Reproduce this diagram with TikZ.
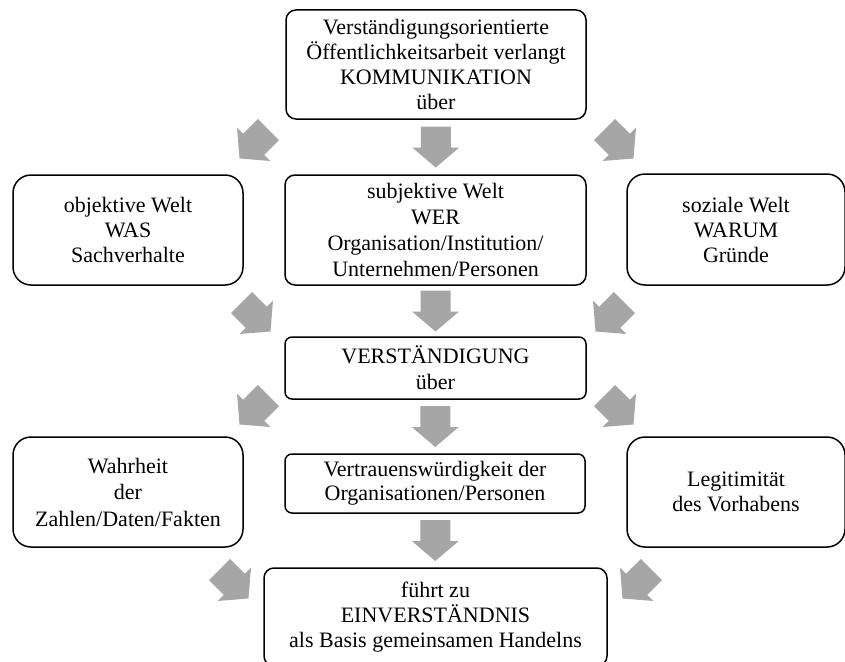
\documentclass[tikz,border=0pt]{standalone}
\usepackage{fontspec}
\setmainfont{Liberation Serif}
\usetikzlibrary{calc}
\definecolor{arrowgray}{HTML}{A6A6A6}
\begin{document}
\begin{tikzpicture}[x=1pt,y=-1pt,
  box/.style={draw=black, line width=1.5pt, align=center, inner sep=0pt,
    font=\fontsize{22}{25}\selectfont, text=black},
  sidebox/.style={box, rounded corners=18pt},
  midbox/.style={box, rounded corners=10pt},
  flatbox/.style={box, rounded corners=7pt},
  barrow/.pic={\fill[arrowgray] (-20.5,-15) -- (0.5,-15) -- (0.5,-23.5) -- (20.5,0)
     -- (0.5,23.5) -- (0.5,15) -- (-20.5,15) -- cycle;}]
\useasboundingbox (0,0) rectangle (845,661);
\clip (0,0) rectangle (845,661);
\fill[white] (0,0) rectangle (845,661);

% nodes
\node[midbox, minimum width=300pt, minimum height=109pt] (top) at (436,64.5)
  {Verständigungsorientierte\\Öffentlichkeitsarbeit verlangt\\KOMMUNIKATION\\über};
\node[sidebox, minimum width=230pt, minimum height=110pt] (obj) at (128,230)
  {objektive Welt\\WAS\\Sachverhalte};
\node[midbox, minimum width=301pt, minimum height=110pt,
  font=\fontsize{22}{26}\selectfont] (subj) at (435.5,230)
  {subjektive Welt\\WER\\Organisation/Institution/\\Unternehmen/Personen};
\node[sidebox, minimum width=218pt, minimum height=111pt] (soz) at (736,229.5)
  {soziale Welt\\WARUM\\Gründe};
\node[flatbox, minimum width=301pt, minimum height=62pt,
  font=\fontsize{22}{26}\selectfont] (verst) at (435.5,368)
  {VERSTÄNDIGUNG\\über};
\node[sidebox, minimum width=230pt, minimum height=110pt,
  font=\fontsize{22}{26.5}\selectfont] (wahr) at (128,492)
  {Wahrheit\\der\\Zahlen/Daten/Fakten};
\node[flatbox, minimum width=300pt, minimum height=59pt,
  font=\fontsize{22}{24}\selectfont] (vertr) at (435,483.5)
  {Vertrauenswürdigkeit der\\Organisationen/Personen};
\node[sidebox, minimum width=218pt, minimum height=110pt] (leg) at (736,492)
  {Legitimität\\des Vorhabens};
\node[midbox, minimum width=343pt, minimum height=98pt] (einv) at (435.5,617)
  {führt zu\\EINVERSTÄNDNIS\\als Basis gemeinsamen Handelns};

% central block arrows
\pic[rotate=-90] at ($(top.south)!0.5!(subj.north)$) {barrow};
\pic[rotate=-90] at ($(subj.south)!0.5!(verst.north)$) {barrow};
\pic[rotate=-90] at ($(verst.south)!0.5!(vertr.north)$) {barrow};
\pic[rotate=-90] at ($(vertr.south)!0.5!(einv.north)$) {barrow};

% diagonal block arrows
\pic[rotate=-135] at (254,144) {barrow};
\pic[rotate=-45]  at (619,144) {barrow};
\pic[rotate=-45]  at (256,317) {barrow};
\pic[rotate=-135] at (610,317) {barrow};
\pic[rotate=-135] at (254,410) {barrow};
\pic[rotate=-45]  at (619,410) {barrow};
\pic[rotate=-45]  at (234,584) {barrow};
\pic[rotate=-135] at (637,584) {barrow};
\end{tikzpicture}
\end{document}
